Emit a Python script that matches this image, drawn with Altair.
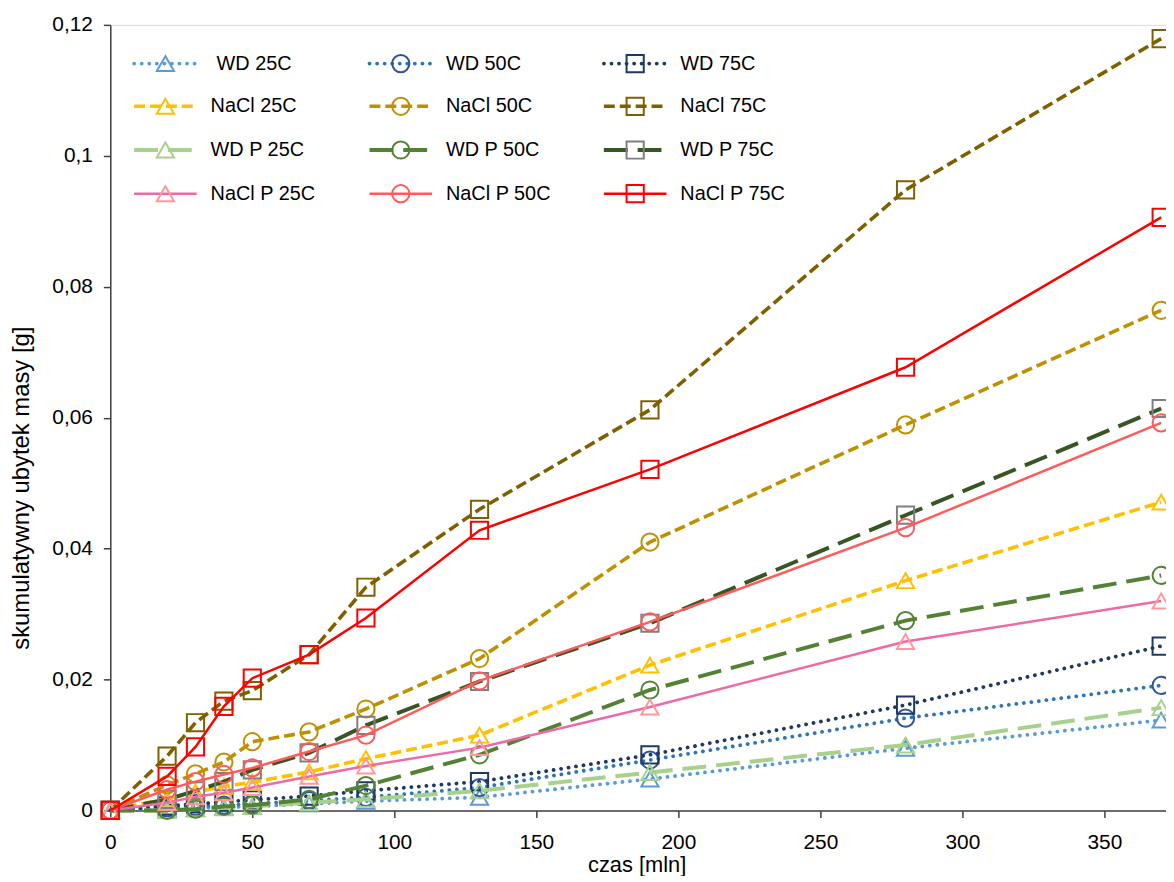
import altair as alt
import pandas as pd

# ---------------- data ----------------
time_min = [0, 20, 30, 40, 50, 70, 90, 130, 190, 280, 370]

series_names = ["WD 25C", "WD 50C", "WD 75C",
                "NaCl 25C", "NaCl 50C", "NaCl 75C",
                "WD P 25C", "WD P 50C", "WD P 75C",
                "NaCl P 25C", "NaCl P 50C", "NaCl P 75C"]

legend_labels = [" WD 25C", "WD 50C", "WD 75C",
                 "NaCl 25C", "NaCl 50C", "NaCl 75C",
                 "WD P 25C", "WD P 50C", "WD P 75C",
                 "NaCl P 25C", "NaCl P  50C", "NaCl P 75C"]

wd_25 = [0, 0.0002, 0.0003, 0.0005, 0.0006, 0.0010, 0.0014, 0.0020, 0.0048, 0.0095, 0.0138]
wd_50 = [0, 0.0004, 0.0006, 0.0008, 0.0010, 0.0015, 0.0020, 0.0035, 0.0077, 0.0141, 0.0191]
wd_75 = [0, 0.0007, 0.0010, 0.0013, 0.0016, 0.0022, 0.0030, 0.0044, 0.0085, 0.0161, 0.0251]
nacl_25 = [0, 0.0018, 0.0028, 0.0037, 0.0043, 0.0059, 0.0079, 0.0115, 0.0222, 0.0351, 0.0471]
nacl_50 = [0, 0.0039, 0.0056, 0.0074, 0.0105, 0.0120, 0.0155, 0.0232, 0.0410, 0.0589, 0.0764]
nacl_75 = [0, 0.0083, 0.0134, 0.0167, 0.0183, 0.0238, 0.0341, 0.0460, 0.0612, 0.0948, 0.1179]
wdp_25 = [0, 0.0000, 0.0002, 0.0004, 0.0006, 0.0012, 0.0017, 0.0030, 0.0058, 0.0100, 0.0157]
wdp_50 = [0, 0.0000, 0.0002, 0.0006, 0.0008, 0.0017, 0.0038, 0.0085, 0.0184, 0.0290, 0.0359]
wdp_75 = [0, 0.0017, 0.0030, 0.0044, 0.0062, 0.0088, 0.0130, 0.0197, 0.0286, 0.0451, 0.0614]
naclp_25 = [0, 0.0012, 0.0021, 0.0027, 0.0035, 0.0052, 0.0068, 0.0096, 0.0158, 0.0258, 0.0320]
naclp_50 = [0, 0.0032, 0.0044, 0.0055, 0.0065, 0.0090, 0.0115, 0.0198, 0.0288, 0.0432, 0.0592]
naclp_75 = [0, 0.0052, 0.0097, 0.0159, 0.0202, 0.0238, 0.0294, 0.0428, 0.0521, 0.0677, 0.0906]

all_values = [wd_25, wd_50, wd_75, nacl_25, nacl_50, nacl_75,
              wdp_25, wdp_50, wdp_75, naclp_25, naclp_50, naclp_75]

y_ticks = [0, 0.02, 0.04, 0.06, 0.08, 0.1, 0.12]
x_ticks = [0, 50, 100, 150, 200, 250, 300, 350]

# ---------------- styles ----------------
line_colors = ["#5B9BD5", "#2E75B6", "#1F3864",
               "#FFC000", "#BF9000", "#7F6000",
               "#A9D18E", "#548235", "#375623",
               "#EE6AA7", "#FF5B5B", "#FF0000"]
marker_colors = ["#5B9BD5", "#2F5597", "#1F3864",
                 "#FFC000", "#BF9000", "#7F6000",
                 "#A9D18E", "#548235", "#7F7F7F",
                 "#FF9999", "#FF5B5B", "#FF0000"]
shapes = ["triangle-up", "circle", "square"] * 4
DOT = dict(strokeDash=[0.1, 7.5], strokeCap="round", strokeWidth=3.8)
DASH = dict(strokeDash=[11, 5], strokeCap="butt", strokeWidth=3.6)
LDASH = dict(strokeDash=[24, 10], strokeCap="butt", strokeWidth=4)
SOLID = dict(strokeWidth=2.5)
line_styles = [DOT] * 3 + [DASH] * 3 + [LDASH] * 3 + [SOLID] * 3

FONT = "Liberation Sans"
MSIZE = 300

rows = []
for name, vals in zip(series_names, all_values):
    for t, v in zip(time_min, vals):
        rows.append({"series": name, "czas": t, "ubytek": v})
df = pd.DataFrame(rows)

x_enc = alt.X("czas:Q", scale=alt.Scale(domain=[0, 371.7], nice=False),
              axis=alt.Axis(values=x_ticks, title="czas [mln]", grid=False,
                            domainColor="#404040", domainWidth=1.5,
                            tickColor="#404040", tickWidth=1.5, tickSize=7,
                            labelFont=FONT, labelFontSize=21, labelColor="#000000",
                            labelPadding=14, labelFlush=False,
                            titleFont=FONT, titleFontSize=22,
                            titleFontWeight="normal", titleColor="#000000",
                            titleX=530, titleY=54, titleBaseline="middle"))
y_enc = alt.Y("ubytek:Q", scale=alt.Scale(domain=[0, 0.12], nice=False),
              axis=alt.Axis(values=y_ticks, title="skumulatywny ubytek masy [g]",
                            grid=False, domainColor="#404040", domainWidth=1.5,
                            tickColor="#404040", tickWidth=1.5, tickSize=7,
                            labelFont=FONT, labelFontSize=21, labelColor="#000000",
                            labelPadding=11, labelFlush=False,
                            labelExpr="replace(format(datum.value, '.2~f'), '.', ',')",
                            titleFont=FONT, titleFontSize=24, titleFontWeight="normal",
                            titleColor="#000000", titleX=-89, titleY=466,
                            titleBaseline="middle", titleAlign="center"))

# legend layout (pixels inside the plot area)
leg_col_x = [24, 261, 497]
leg_seg = 63
leg_row_y = [39, 82, 126, 170]

layers = []
base = alt.Chart(df)
for i, name in enumerate(series_names):
    sub = base.transform_filter(alt.datum.series == name)
    layers.append(sub.mark_line(color=line_colors[i], **line_styles[i])
                  .encode(x=x_enc, y=y_enc))
    layers.append(sub.mark_point(shape=shapes[i], filled=False, size=MSIZE,
                                 strokeWidth=2, color=marker_colors[i], opacity=1)
                  .encode(x=x_enc, y=y_enc))
    # legend entry
    r, c = divmod(i, 3)
    lx0 = leg_col_x[c]
    ly = leg_row_y[r]
    label = legend_labels[i]
    lead = 6 if label.startswith(" ") else 0
    leg = alt.Chart(pd.DataFrame({"label": [label.strip()]}))
    layers.append(leg.mark_rule(color=line_colors[i], **line_styles[i])
                  .encode(x=alt.value(lx0), x2=alt.value(lx0 + leg_seg), y=alt.value(ly)))
    layers.append(leg.mark_point(shape=shapes[i], filled=False, size=MSIZE,
                                 strokeWidth=2, color=marker_colors[i], opacity=1)
                  .encode(x=alt.value(lx0 + leg_seg / 2), y=alt.value(ly)))
    layers.append(leg.mark_text(align="left", baseline="middle", font=FONT,
                                fontSize=20, color="#000000")
                  .encode(x=alt.value(lx0 + leg_seg + 14 + lead), y=alt.value(ly),
                          text="label:N"))

chart = alt.layer(*layers).properties(
    width=1063, height=791,
    autosize=alt.AutoSizeParams(type="none"),
    padding={"left": 103, "top": 14, "right": 0, "bottom": 63},
).configure_view(stroke=None).configure(background="white")

chart.save("out.html", embed_options={"renderer": "svg", "actions": False})
